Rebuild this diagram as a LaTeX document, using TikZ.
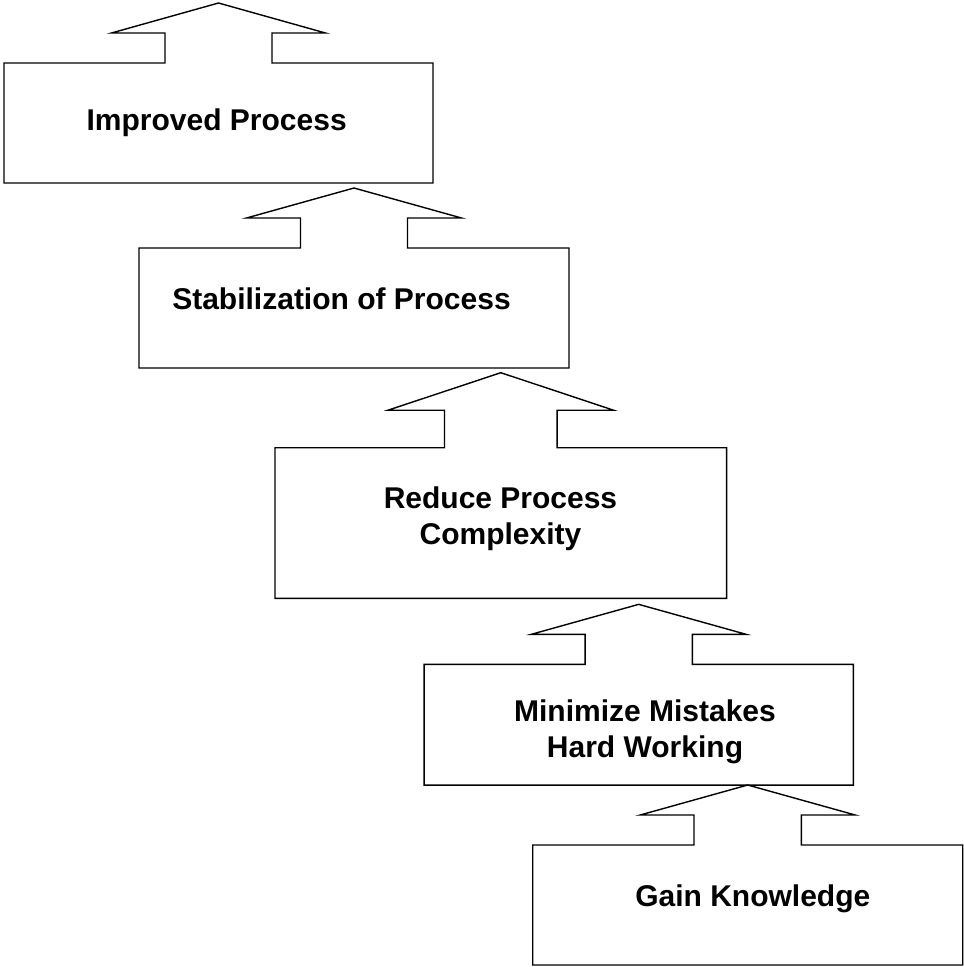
\documentclass[tikz,border=0pt]{standalone}
\usepackage{fontspec}
\setmainfont{Liberation Sans}
\usetikzlibrary{calc}
\tikzset{
  boxshape/.style={rectangle, draw=none, inner sep=0pt, outer sep=0pt},
  outline/.style={draw=black, line width=1.4pt, line join=miter, fill=white},
  lbl/.style={font=\fontsize{30}{36}\selectfont\bfseries, inner sep=0pt, align=center}
}
% #1 box name, #2 stem half width, #3 head half width, #4 part height
\newcommand\arrowbox[4]{%
  \draw[outline] (#1.south west) -- (#1.north west)
    -- ($(#1.north)+(-#2,0)$) -- ++(0,-#4)
    -- ($(#1.north)+(-#3,-#4)$)
    -- ($(#1.north)+(0,-2*#4)$)
    -- ($(#1.north)+(#3,-#4)$)
    -- ($(#1.north)+(#2,-#4)$) -- ($(#1.north)+(#2,0)$)
    -- (#1.north east) -- (#1.south east) -- cycle;}
\begin{document}
\begin{tikzpicture}[x=1pt,y=-1pt]
\useasboundingbox[fill=white] (0,0) rectangle (964,967);
% boxes
\node[boxshape, minimum width=429pt, minimum height=120pt] (b1) at (218.5,123) {};
\node[boxshape, minimum width=430pt, minimum height=120pt] (b2) at (354,308) {};
\node[boxshape, minimum width=451.7pt, minimum height=150.6pt] (b3) at (500.8,523) {};
\node[boxshape, minimum width=429.3pt, minimum height=120.7pt] (b4) at (638.7,724.7) {};
\node[boxshape, minimum width=430pt, minimum height=120pt] (b5) at (747.7,905) {};
% outlines with block arrows
\arrowbox{b1}{53.5}{107}{30}
\arrowbox{b2}{53.5}{107.5}{30}
\arrowbox{b3}{56.3}{112.8}{37.5}
\arrowbox{b4}{53.6}{107.5}{30}
\arrowbox{b5}{53.7}{107.5}{30}
% labels
\node[lbl, anchor=base] (t1) at (216.7,130.7) {Improved Process};
\node[lbl, anchor=base] (t2) at (341.5,309.3) {Stabilization of Process};
\node[lbl] (t3) at (500.5,518.5) {Reduce Process\\Complexity};
\node[lbl] (t4) at (645,732) {Minimize Mistakes\\Hard Working};
\node[lbl, anchor=base] (t5) at (752.8,906.7) {Gain Knowledge};
\end{tikzpicture}
\end{document}
